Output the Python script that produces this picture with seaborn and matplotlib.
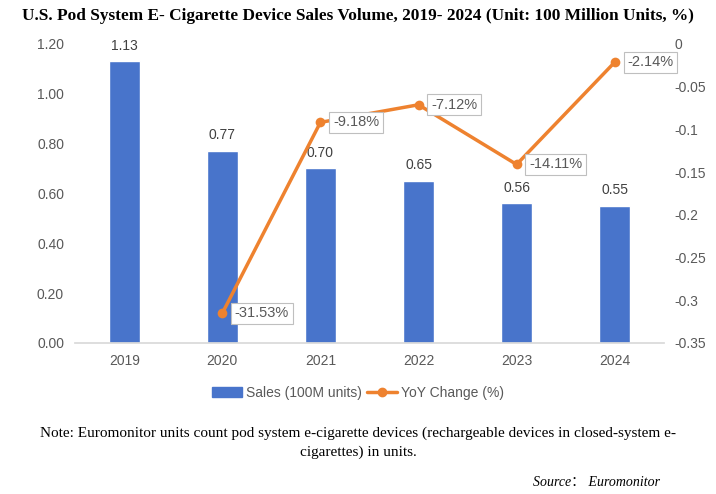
import numpy as np
import pandas as pd
import matplotlib
matplotlib.use("Agg")
import matplotlib.pyplot as plt
import seaborn as sns
from matplotlib.patches import Patch
from matplotlib.lines import Line2D

sns.set_theme(style="white")
plt.rcParams["font.family"] = ["Liberation Sans", "DejaVu Sans"]
SERIF = ["Liberation Serif", "Noto Sans CJK SC"]

# ── Data ────────────────────────────────────────────────────────────────
years = ["2019", "2020", "2021", "2022", "2023", "2024"]
sales = [1.13, 0.77, 0.70, 0.65, 0.56, 0.55]
yoy_years = ["2020", "2021", "2022", "2023", "2024"]
yoy = [-0.3153, -0.0918, -0.0712, -0.1411, -0.0214]

BLUE = "#4874CB"
ORANGE = "#EE822F"
GREY = "#595959"

df = pd.DataFrame({"Year": years, "Sales": sales})
line_df = pd.DataFrame({"pos": [years.index(y) for y in yoy_years], "YoY": yoy})

fig = plt.figure(figsize=(7.16, 4.94), dpi=100)
ax = fig.add_axes([0.105, 0.306, 0.822, 0.605])

sns.barplot(data=df, x="Year", y="Sales", color=BLUE, width=0.32,
            saturation=1, ax=ax)
for i, v in enumerate(sales):
    ax.text(i, v + 0.035, f"{v:.2f}", ha="center", va="bottom",
            fontsize=10, color="#404040")

ax.set_ylim(0, 1.2)
ax.set_xlim(-0.5, len(years) - 0.5)
ax.set_yticks(np.arange(0, 1.21, 0.2))
ax.set_yticklabels([f"{t:.2f}" for t in np.arange(0, 1.21, 0.2)])
ax.set_xlabel("")
ax.set_ylabel("")
ax.tick_params(axis="both", labelsize=10, colors=GREY, length=0, pad=8)
for s in ["top", "right", "left"]:
    ax.spines[s].set_visible(False)
ax.spines["bottom"].set_color("#D9D9D9")

# ── Line on secondary axis ──────────────────────────────────────────────
ax2 = ax.twinx()
sns.lineplot(data=line_df, x="pos", y="YoY", color=ORANGE, linewidth=2.5,
             marker="o", markersize=7, markeredgewidth=0, ax=ax2)
for x, v in zip(line_df["pos"], line_df["YoY"]):
    ax2.annotate(f"{v * 100:.2f}%", (x, v), xytext=(9, 0),
                 textcoords="offset points", ha="left", va="center",
                 fontsize=10.5, color=GREY,
                 bbox=dict(boxstyle="square,pad=0.25", fc="white",
                           ec="#BFBFBF", lw=0.8))
ax2.set_ylim(-0.35, 0)
ticks2 = [0, -0.05, -0.1, -0.15, -0.2, -0.25, -0.3, -0.35]
ax2.set_yticks(ticks2)
ax2.set_yticklabels([f"{t:g}" for t in ticks2])
ax2.set_xlim(-0.5, len(years) - 0.5)
ax2.set_xlabel("")
ax2.set_ylabel("")
ax2.tick_params(axis="y", labelsize=10, colors=GREY, length=0, pad=8)
for s in ["top", "right", "left", "bottom"]:
    ax2.spines[s].set_visible(False)

# ── Legend ──────────────────────────────────────────────────────────────
handles = [Patch(color=BLUE, label="Sales (100M units)"),
           Line2D([0], [0], color=ORANGE, lw=2.5, marker="o", markersize=6,
                  label="YoY Change (%)")]
fig.legend(handles=handles, loc="center", bbox_to_anchor=(0.5, 0.205),
           ncol=2, frameon=False, fontsize=10, handlelength=2.2,
           columnspacing=0.3, handletextpad=0.3, labelcolor=GREY)

# ── Title and notes ─────────────────────────────────────────────────────
fig.text(0.031, 0.968, "U.S. Pod System E- Cigarette Device Sales Volume, 2019- 2024 "
         "(Unit: 100 Million Units, %)", family=SERIF,
         fontweight="bold", fontsize=12.4, ha="left", va="center", color="black")
fig.text(0.5, 0.123, "Note: Euromonitor units count pod system e-cigarette devices "
         "(rechargeable devices in closed-system e-", family=SERIF,
         fontsize=11, ha="center", va="center", color="black")
fig.text(0.5, 0.085, "cigarettes) in units.", family=SERIF,
         fontsize=11, ha="center", va="center", color="black")
fig.text(0.922, 0.024, "Source\uff1a Euromonitor", family=SERIF,
         style="italic", fontsize=10, ha="right", va="center", color="black")

fig.savefig("out.png", dpi=100)
